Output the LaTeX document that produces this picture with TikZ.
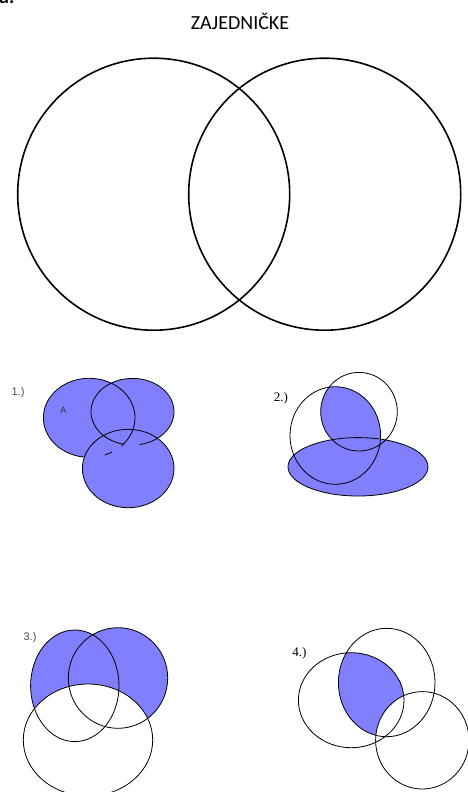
\documentclass[tikz,border=0pt]{standalone}
\usepackage{fontspec}
\setmainfont{Carlito}
\newfontfamily\arialf{Liberation Sans}
\newfontfamily\timesf{Liberation Serif}
\definecolor{vblue}{RGB}{128,128,255}
\tikzset{
  ol/.style={draw=black, line width=0.8pt},
  bigline/.style={draw=black, line width=1.6pt},
  lbls/.style={font=\arialf\fontsize{11}{13}\selectfont, text=black!70, inner sep=0pt},
  lblr/.style={font=\timesf\fontsize{13}{15}\selectfont, text=black, inner sep=0pt},
}
\begin{document}
\begin{tikzpicture}[x=1pt,y=-1pt]
\clip (0,0) rectangle (468,792);
\fill[white] (0,0) rectangle (468,792);

% fragment of previous line and title
\node[font=\bfseries\fontsize{20}{24}\selectfont, anchor=base west, inner sep=0pt] (frag) at (-1,4) {a.};
\node[font=\fontsize{20}{24}\selectfont, anchor=base, inner sep=0pt] (title) at (240,29.5) {ZAJEDNIČKE};

% big Venn diagram
\draw[bigline] (153.7,194.2) circle[radius=136];
\draw[bigline] (324.7,194.2) circle[radius=136];

% ---- 1.)
\fill[vblue] (89.2,417.8) ellipse[x radius=45.8, y radius=39.5];
\fill[vblue] (132.5,411.7) ellipse[x radius=41.5, y radius=33.3];
\fill[vblue] (128.2,468.5) ellipse[x radius=45.8, y radius=39.2];
\draw[ol] (128.2,468.5) ellipse[x radius=45.8, y radius=39.2];
\draw[ol] plot[domain=96:405, samples=90, smooth] ({89.2+45.8*cos(\x)},{417.8+39.5*sin(\x)});
\draw[ol] plot[domain=60:70, samples=5, smooth] ({89.2+45.8*cos(\x)},{417.8+39.5*sin(\x)});
\draw[ol] plot[domain=103:440, samples=90, smooth] ({132.5+41.5*cos(\x)},{411.7+33.3*sin(\x)});
\node[lbls] (l1) at (18,393) {1.)};
\node[font=\arialf\fontsize{9}{10}\selectfont, text=black!80, inner sep=0pt] (la) at (63.3,410.3) {A};

% ---- 2.)
\fill[vblue] (358,466.8) ellipse[x radius=70, y radius=29.2];
\begin{scope}
  \clip (335.3,435.5) ellipse[x radius=45.3, y radius=48.8];
  \fill[vblue] (359,411.7) ellipse[x radius=38.3, y radius=39.3];
\end{scope}
\draw[ol] (358,466.8) ellipse[x radius=70, y radius=29.2];
\draw[ol] (335.3,435.5) ellipse[x radius=45.3, y radius=48.8];
\draw[ol] (359,411.7) ellipse[x radius=38.3, y radius=39.3];
\node[lblr] (l2) at (281,398.3) {2.)};

% ---- 3.)
\fill[vblue] (74.8,685.8) ellipse[x radius=44.2, y radius=55.8];
\fill[vblue] (118,678) ellipse[x radius=49.7, y radius=50.3];
\fill[white] (88,740) ellipse[x radius=64.7, y radius=56];
\draw[ol] (74.8,685.8) ellipse[x radius=44.2, y radius=55.8];
\draw[ol] (118,678) ellipse[x radius=49.7, y radius=50.3];
\draw[ol] (88,740) ellipse[x radius=64.7, y radius=56];
\node[lbls] (l3) at (30,637.5) {3.)};

% ---- 4.)
\begin{scope}
  \clip (351.2,700.2) ellipse[x radius=52.8, y radius=47.5];
  \fill[vblue] (386.7,682.5) ellipse[x radius=48.3, y radius=54.2];
\end{scope}
\fill[white] (422.3,740.3) ellipse[x radius=46.7, y radius=48.7];
\draw[ol] (351.2,700.2) ellipse[x radius=52.8, y radius=47.5];
\draw[ol] (386.7,682.5) ellipse[x radius=48.3, y radius=54.2];
\draw[ol] (422.3,740.3) ellipse[x radius=46.7, y radius=48.7];
\node[lblr] (l4) at (299.3,653.3) {4.)};
\end{tikzpicture}
\end{document}
